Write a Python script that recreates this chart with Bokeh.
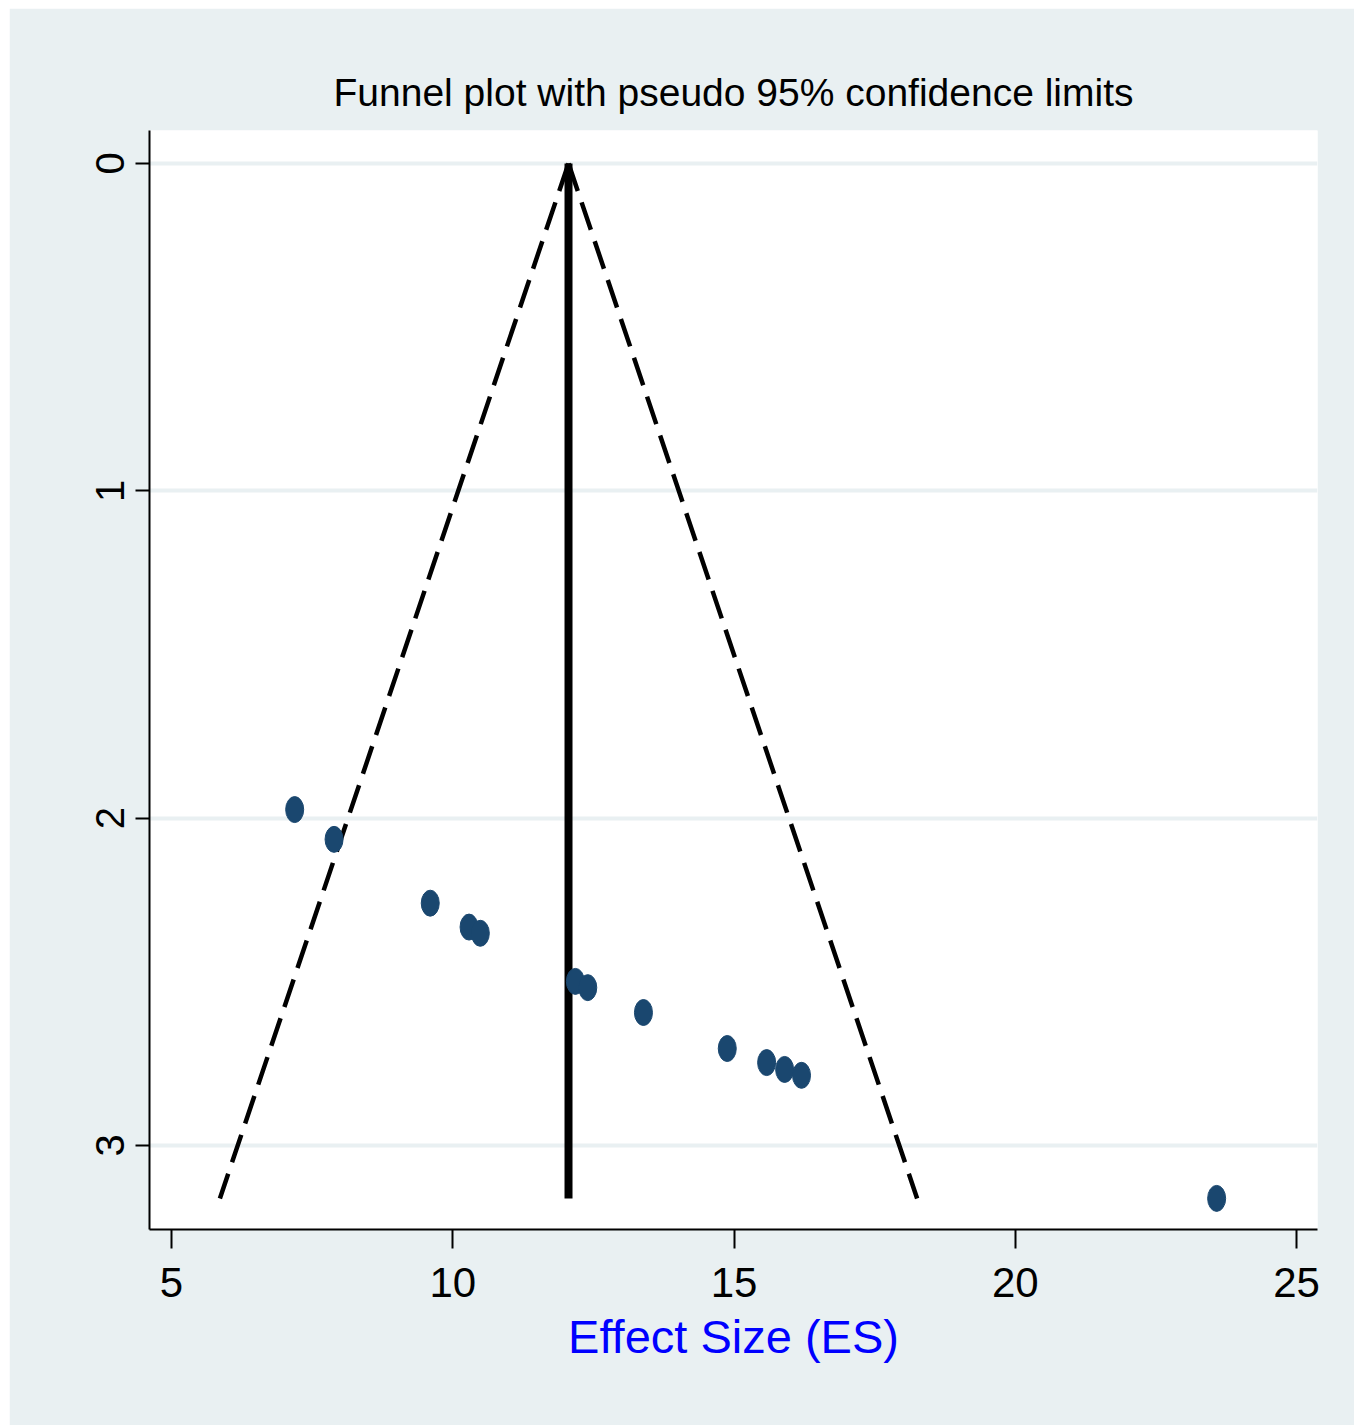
from bokeh.plotting import figure
from bokeh.models import Range1d, FixedTicker, Spacer
from bokeh.layouts import column, row
from bokeh.embed import file_html
from bokeh.resources import INLINE

# ---- data ----
effect_size = [7.19, 7.89, 9.60, 10.29, 10.49, 12.18, 12.40, 13.39, 14.88, 15.58, 15.90, 16.20, 23.58]
std_error = [1.974, 2.065, 2.260, 2.333, 2.352, 2.499, 2.518, 2.594, 2.704, 2.747, 2.768, 2.786, 3.162]
pooled_es = 12.058
z95 = 1.96
x_ticks = [5, 10, 15, 20, 25]
y_ticks = [0, 1, 2, 3]
title_text = "Funnel plot with pseudo 95% confidence limits"
x_label = "Effect Size (ES)"

BG = "#e9f0f2"
FONT = "Liberation Sans"

se_max = max(std_error)
lo_end = pooled_es - z95 * se_max
hi_end = pooled_es + z95 * se_max

p = figure(
    width=1345, height=1417,
    output_backend="svg", toolbar_location=None,
    x_range=Range1d(4.609, 25.373),
    y_range=Range1d(3.257, -0.1008),
    min_border_left=140, min_border_right=37,
    min_border_top=122, min_border_bottom=196,
)
p.background_fill_color = "white"
p.border_fill_color = BG
p.outline_line_color = None

# title
p.title.text = title_text
p.title.align = "center"
p.title.text_font = FONT
p.title.text_font_size = "39px"
p.title.text_font_style = "normal"
p.title.text_color = "black"
p.title.standoff = 33
p.title.offset = -6

# grid
p.xgrid.grid_line_color = None
p.ygrid.grid_line_color = BG
p.ygrid.grid_line_width = 4
p.ygrid.ticker = FixedTicker(ticks=y_ticks)

# x axis
xa = p.xaxis[0]
xa.ticker = FixedTicker(ticks=x_ticks)
xa.axis_line_width = 2
xa.axis_line_color = "black"
xa.major_tick_line_width = 2
xa.major_tick_line_color = "black"
xa.major_tick_out = 19
xa.major_tick_in = 0
xa.minor_tick_line_color = None
xa.major_label_text_font = FONT
xa.major_label_text_font_size = "42px"
xa.major_label_text_color = "black"
xa.major_label_standoff = 19
xa.axis_label = x_label
xa.axis_label_text_font = FONT
xa.axis_label_text_font_size = "47px"
xa.axis_label_text_font_style = "normal"
xa.axis_label_text_color = "#0000ff"
xa.axis_label_standoff = 10

# y axis
ya = p.yaxis[0]
ya.ticker = FixedTicker(ticks=y_ticks)
ya.axis_line_width = 2
ya.axis_line_color = "black"
ya.major_tick_line_width = 2
ya.major_tick_line_color = "black"
ya.major_tick_out = 14
ya.major_tick_in = 0
ya.minor_tick_line_color = None
ya.major_label_text_font = FONT
ya.major_label_text_font_size = "40px"
ya.major_label_text_color = "black"
ya.major_label_orientation = "vertical"
ya.major_label_standoff = 11

# pseudo 95% confidence limits (dashed), drawn from apex down
p.line([pooled_es, lo_end], [0, se_max], line_color="black", line_width=4.5,
       line_dash="29 12", line_cap="butt")
p.line([pooled_es, hi_end], [0, se_max], line_color="black", line_width=4.5,
       line_dash="29 12", line_cap="butt")

# pooled effect line
p.line([pooled_es, pooled_es], [0, se_max], line_color="black", line_width=8, line_cap="butt")

# studies
p.ellipse(x=effect_size, y=std_error, width=18, height=26,
          width_units="screen", height_units="screen",
          fill_color="#1a476f", line_color="#1a476f", line_width=1)

layout = column(Spacer(height=8), row(Spacer(width=9), p))
open("out.html", "w").write(file_html(layout, INLINE))
